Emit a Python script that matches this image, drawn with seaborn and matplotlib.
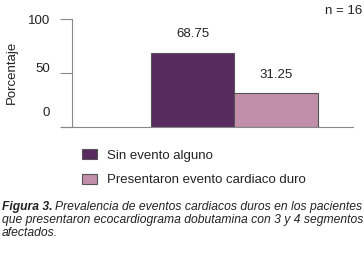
import pandas as pd
import seaborn as sns
import matplotlib.pyplot as plt
from matplotlib.transforms import offset_copy

# data
grupo = ["n = 16", "n = 16"]
serie = ["Sin evento alguno", "Presentaron evento cardiaco duro"]
porcentaje = [68.75, 31.25]
colores = ["#5E2266", "#C987A9"]
yticks = [0, 50, 100]
caption = ["Prevalencia de eventos cardiacos duros en los pacientes",
           "que presentaron ecocardiograma dobutamina con 3 y 4 segmentos",
           "afectados."]

df = pd.DataFrame({"grupo": grupo, "serie": serie, "pct": porcentaje})

sns.set_theme(style="white")
plt.rcParams['font.family'] = ['Liberation Sans', 'DejaVu Sans']
FS = 9.5
TXT = "#222222"
NARROW = ['Liberation Sans Narrow', 'Liberation Sans', 'DejaVu Sans']

fig = plt.figure(figsize=(3.64, 2.56), dpi=100)
ax = fig.add_axes([72 / 364, 1 - 127 / 256, (353 - 72) / 364, (127 - 19) / 256])

sns.barplot(data=df, x="grupo", y="pct", hue="serie", palette=colores,
            width=0.8, edgecolor="#555555", linewidth=0.8, ax=ax)

for c in ax.containers:
    ax.bar_label(c, labels=[f"{v:.2f}" for v in c.datavalues],
                 padding=9, fontsize=FS, color=TXT)

ax.set_xlim(-0.78, 0.57)
ax.set_ylim(0, 100)
ax.set_yticks(yticks)
ax.set_yticklabels([str(t) for t in yticks], fontsize=FS, color=TXT)
ax.tick_params(axis="y", left=True, length=9, width=0.8, color="#888888", pad=7)
# the original tick labels sit a little above their ticks
for lab, dy in zip(ax.get_yticklabels(), [15, 5, 0]):
    lab.set_transform(offset_copy(lab.get_transform(), fig=fig, y=dy, units="dots"))
ax.set_xticks([])
ax.set_xlabel("")
ax.set_ylabel("Porcentaje", fontsize=FS, color=TXT)
ax.yaxis.set_label_coords(-(72 - 18) / 281, (127 - 72) / 108)
for s in ["top", "right"]:
    ax.spines[s].set_visible(False)
for s in ["left", "bottom"]:
    ax.spines[s].set_color("#888888")
    ax.spines[s].set_linewidth(0.8)
ax.spines["bottom"].set_bounds(-0.78 - 10 / 208, 0.57)
ax.spines["bottom"].set_clip_on(False)

handles, labels = ax.get_legend_handles_labels()
ax.get_legend().remove()
fig.legend(handles, labels, loc="upper left", bbox_to_anchor=(77 / 364, 1 - 144 / 256),
           frameon=False, fontsize=FS, handlelength=1.15, handleheight=0.8,
           handletextpad=0.7, labelspacing=0.9, borderaxespad=0,
           labelcolor=TXT)

fig.text(362 / 364, 1 - 11 / 256, "n = 16", ha="right", va="center",
         fontsize=FS, color=TXT)

# caption: fit the second line to the figure width
fig.canvas.draw()
r = fig.canvas.get_renderer()
probe = fig.text(0, 0, caption[1], fontsize=10, style="italic", family=NARROW)
w = probe.get_window_extent(r).width
probe.remove()
CS = 10 * 361 / w

ys = [207, 220, 233]
b = fig.text(2 / 364, 1 - ys[0] / 256, "Figura 3.", fontsize=CS, style="italic",
             weight="bold", va="center", color=TXT, family=NARROW)
x1 = b.get_window_extent(r).x1 / fig.bbox.width
fig.text(x1 + 3 / 364, 1 - ys[0] / 256, caption[0],
         fontsize=CS, style="italic", va="center", color=TXT, family=NARROW)
for line, y in zip(caption[1:], ys[1:]):
    fig.text(2 / 364, 1 - y / 256, line, fontsize=CS, style="italic",
             va="center", color=TXT, family=NARROW)

fig.savefig("out.png", dpi=100)
